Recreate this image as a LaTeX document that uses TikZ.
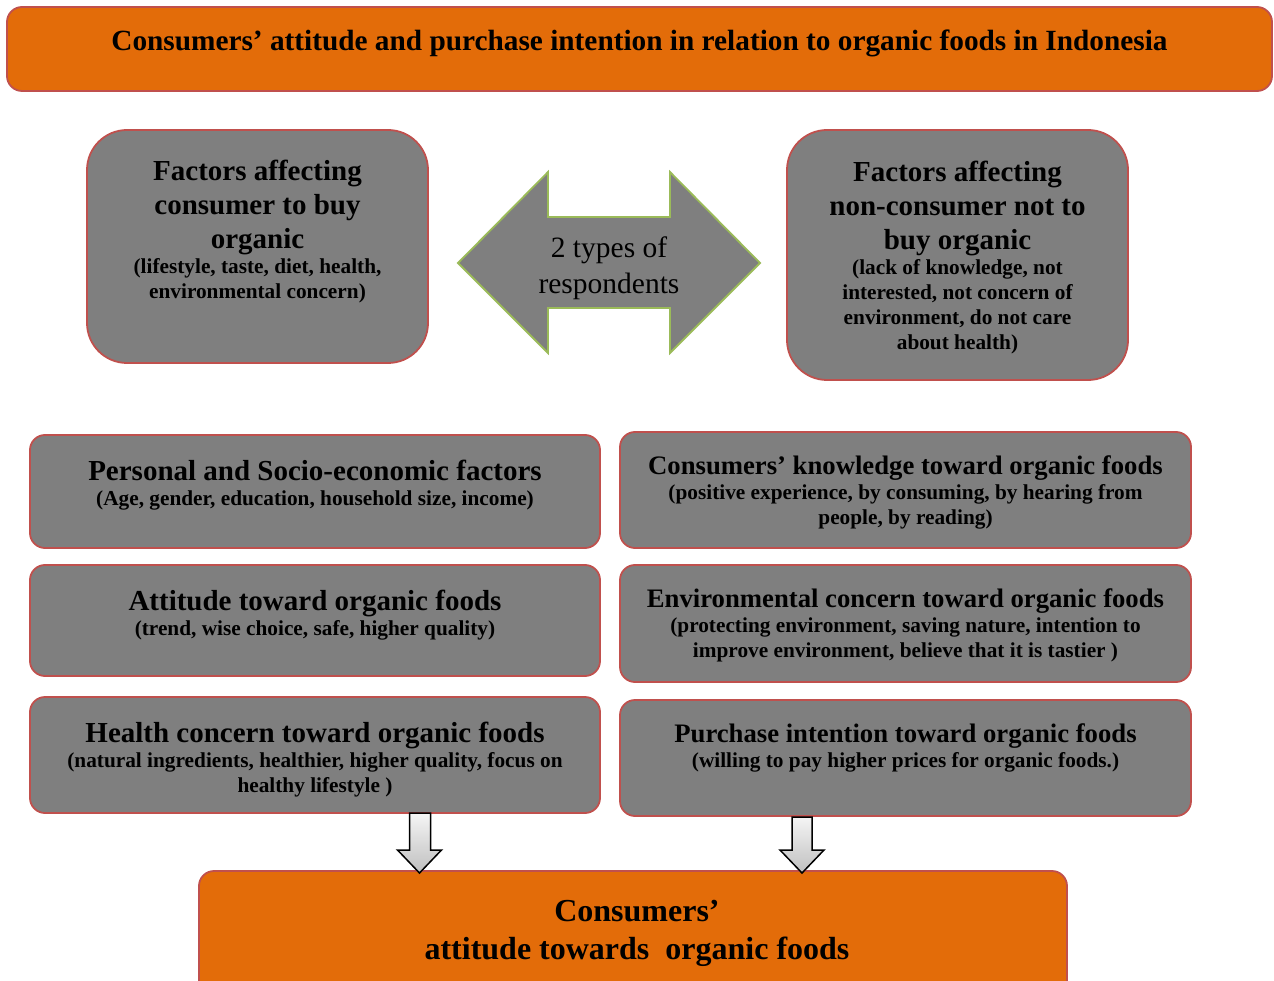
\documentclass[tikz,border=0pt]{standalone}
\usepackage{fontspec}
\setmainfont{Liberation Serif}
\definecolor{orng}{HTML}{E36C09}
\definecolor{gbox}{HTML}{7F7F7F}
\definecolor{bord}{HTML}{C0504D}
\definecolor{grn}{HTML}{9BBB59}
\newcommand{\fixsp}{\centering\spaceskip=\fontdimen2\font\relax\xspaceskip=\fontdimen2\font\relax}
\newcommand{\hdf}{\fontsize{29}{34}\selectfont\bfseries\fixsp}
\newcommand{\hdr}{\fontsize{26.7}{31}\selectfont\bfseries\fixsp}
\newcommand{\sbf}{\fontsize{21.3}{25}\selectfont\bfseries\fixsp}
\tikzset{
  obox/.style={draw=bord, line width=1.8pt, fill=orng, rounded corners=15pt, inner sep=0pt},
  gbig/.style={draw=bord, line width=1.8pt, fill=gbox, rounded corners=40pt, inner sep=0pt},
  rowbox/.style={draw=bord, line width=1.8pt, fill=gbox, rounded corners=15pt, inner sep=0pt},
  txt/.style={align=center, inner sep=0pt, text=black, text width=600pt},
  blockarrow/.style={draw=black, line width=1.5pt, shading=axis, top color=gray!8, bottom color=gray!50},
  dblarrow/.style={draw=grn, line width=1.8pt, fill=gbox},
}
\begin{document}
\begin{tikzpicture}[x=1pt,y=-1pt]
\useasboundingbox (0,0) rectangle (1274,981);
\clip (0,0) rectangle (1274,981);
% title
\node[obox, minimum width=1265pt, minimum height=84pt] (title) at (639.5,49) {};
\node[txt, text width=1200pt] (titletxt) at (639.5,43) {\fontsize{29.3}{34}\selectfont\bfseries\fixsp Consumers’ attitude and purchase intention in relation to organic foods in Indonesia\par};
% top boxes
\node[gbig, minimum width=341pt, minimum height=233pt] (l1) at (257.5,246.5) {};
\node[txt] (l1txt) at (257.5,231.5) {\hdf Factors affecting\\consumer to buy\\organic\par\sbf (lifestyle, taste, diet, health,\\environmental concern)\par};
\node[gbig, minimum width=341pt, minimum height=250pt] (r1) at (957.5,255) {};
\node[txt] (r1txt) at (957.5,257.5) {\hdf Factors affecting\\non-consumer not to\\buy organic\par\sbf (lack of knowledge, not\\interested, not concern of\\environment, do not care\\about health)\par};
% double arrow
\draw[dblarrow] (458,263) -- (548,172) -- (548,217) -- (670,217) -- (670,172) -- (760,263) -- (670,353) -- (670,308) -- (548,308) -- (548,353) -- cycle;
\node[txt, text width=300pt] (dbltxt) at (609,268) {\fontsize{29.5}{36}\selectfont\fixsp 2 types of\\respondents\par};
% rows
\node[rowbox, minimum width=570pt, minimum height=113pt] (r2l) at (315,491.5) {};
\node[txt] (r2ltxt) at (315,485) {\hdf Personal and Socio-economic factors\par\sbf (Age, gender, education, household size, income)\par};
\node[rowbox, minimum width=571pt, minimum height=116pt] (r2r) at (905.5,490) {};
\node[txt] (r2rtxt) at (905.5,492) {\hdr Consumers’ knowledge toward organic foods\par\sbf (positive experience, by consuming, by hearing from\\people, by reading)\par};
\node[rowbox, minimum width=570pt, minimum height=111pt] (r3l) at (315,620.5) {};
\node[txt] (r3ltxt) at (315,615) {\hdf Attitude toward organic foods\par\sbf (trend, wise choice, safe, higher quality)\par};
\node[rowbox, minimum width=571pt, minimum height=117pt] (r3r) at (905.5,623.5) {};
\node[txt] (r3rtxt) at (905.5,625) {\hdr Environmental concern toward organic foods\par\sbf (protecting environment, saving nature, intention to\\improve environment, believe that it is tastier )\par};
\node[rowbox, minimum width=570pt, minimum height=116pt] (r4l) at (315,755) {};
\node[txt] (r4ltxt) at (315,759.5) {\hdf Health concern toward organic foods\par\sbf (natural ingredients, healthier, higher quality, focus on\\healthy lifestyle )\par};
\node[rowbox, minimum width=571pt, minimum height=116pt] (r4r) at (905.5,758) {};
\node[txt] (r4rtxt) at (905.5,748) {\hdr Purchase intention toward organic foods\par\sbf (willing to pay higher prices for organic foods.)\par};
% bottom box
\node[obox, minimum width=868pt, minimum height=160pt] (bot) at (633,951) {};
\node[txt, text width=860pt] (bottxt) at (637,933) {\fontsize{32}{38}\selectfont\bfseries\fixsp Consumers’\\attitude towards\ \ organic foods\par};
% block arrows
\coordinate (a1) at (420,813);
\coordinate (a2) at (802,817);
\draw[blockarrow] (a1) ++(-10.5,0) -- ++(21,0) -- ++(0,37) -- ++(11,0) -- ++(-22,23) -- ++(-22,-23) -- ++(12,0) -- cycle;
\draw[blockarrow] (a2) ++(-10,0) -- ++(20,0) -- ++(0,33) -- ++(12,0) -- ++(-22,23) -- ++(-22,-23) -- ++(12,0) -- cycle;
\end{tikzpicture}
\end{document}
